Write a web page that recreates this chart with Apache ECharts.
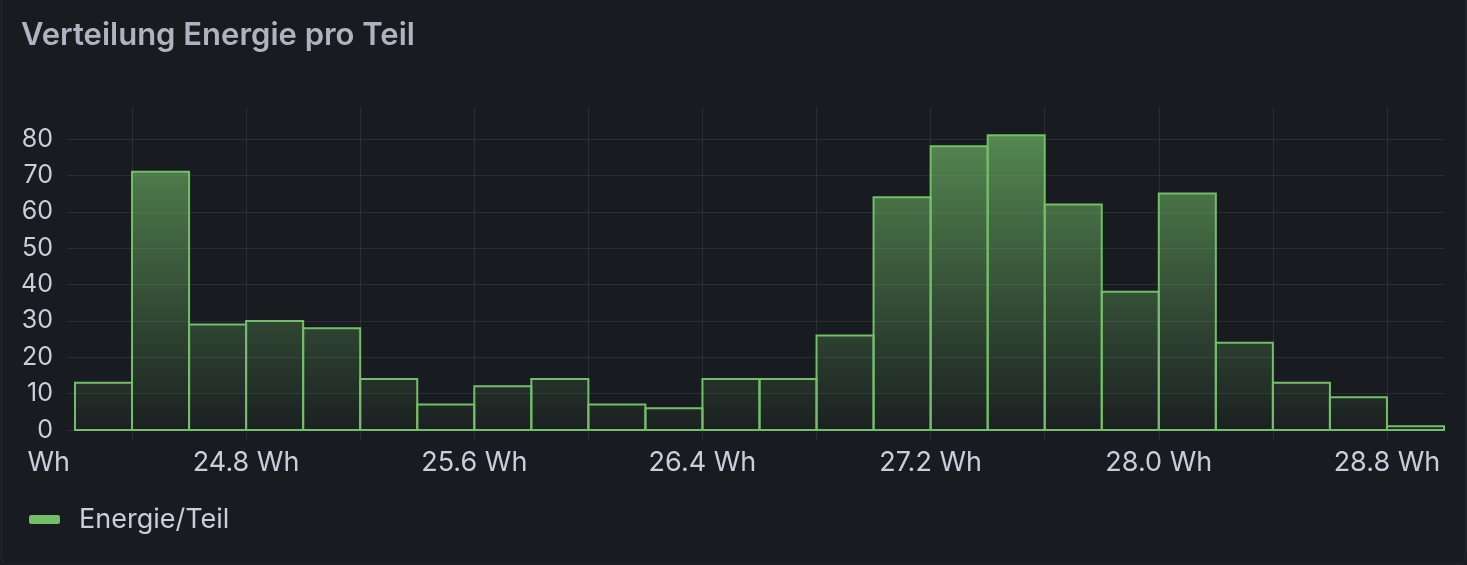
<!DOCTYPE html>
<html>
<head>
<meta charset="utf-8">
<title>Verteilung Energie pro Teil</title>
<script src="https://cdn.jsdelivr.net/npm/echarts@6/dist/echarts.min.js"></script>
<style>
  html, body { margin: 0; padding: 0; background: #181b1f; }
  #chart { width: 1467px; height: 565px; }
</style>
</head>
<body>
<div id="chart"></div>
<script>
// histogram bins (Wh), each 0.2 Wh wide
var binStarts = [24.2, 24.4, 24.6, 24.8, 25.0, 25.2, 25.4, 25.6, 25.8, 26.0, 26.2, 26.4,
                 26.6, 26.8, 27.0, 27.2, 27.4, 27.6, 27.8, 28.0, 28.2, 28.4, 28.6, 28.8];
var binWidth = 0.2;
var counts = [13, 71, 29, 30, 28, 14, 7, 12, 14, 7, 6, 14,
              14, 26, 64, 78, 81, 62, 38, 65, 24, 13, 9, 1];

// axis ticks / labels
var xGridTicks = [24.4, 24.8, 25.2, 25.6, 26.0, 26.4, 26.8, 27.2, 27.6, 28.0, 28.4, 28.8];
var xLabelTicks = [24.18, 24.8, 25.6, 26.4, 27.2, 28.0, 28.8];
var yTicks = [0, 10, 20, 30, 40, 50, 60, 70, 80];

var xMin = 24.172, xMax = 29.0;
var yMax = 88.8;

var textColor = 'rgb(204,204,220)';
var gridColor = 'rgba(204,204,220,0.1)';
var green = '#73bf69';

var chart = echarts.init(document.getElementById('chart'));

var option = {
    backgroundColor: '#181b1f',
    textStyle: { fontFamily: 'Inter' },
    title: {
        text: 'Verteilung Energie pro Teil',
        left: 21,
        top: 20,
        padding: 0,
        textStyle: {
            fontFamily: 'Inter',
            fontSize: 31,
            lineHeight: 31,
            fontWeight: 600,
            color: 'rgba(204,204,220,0.85)'
        }
    },
    legend: {
        left: 29,
        top: 506,
        padding: 0,
        itemWidth: 31,
        itemHeight: 9,
        selectedMode: false,
        data: [{ name: 'Energie/Teil', icon: 'roundRect', itemStyle: { color: green } }],
        textStyle: {
            fontFamily: 'Inter',
            fontSize: 27,
            lineHeight: 27,
            color: textColor,
            padding: [0, 0, 0, 14]
        }
    },
    grid: {
        left: 67,
        right: 23,
        top: 107,
        bottom: 135,
        outerBoundsMode: 'none'
    },
    xAxis: {
        type: 'value',
        min: xMin,
        max: xMax,
        axisLine: { show: false },
        axisTick: {
            show: true,
            length: 10,
            customValues: xGridTicks,
            lineStyle: { color: gridColor }
        },
        axisLabel: {
            customValues: xLabelTicks,
            margin: 19,
            fontSize: 27,
            lineHeight: 27,
            color: textColor,
            formatter: function (v) {
                if (v < 24.5) return '{w|Wh}';
                return v.toFixed(1) + ' Wh';
            },
            rich: {
                w: { fontSize: 27, lineHeight: 27, color: textColor, padding: [0, 41, 0, 0] }
            }
        },
        splitLine: { show: true, lineStyle: { color: gridColor } }
    },
    yAxis: {
        type: 'value',
        min: 0,
        max: yMax,
        axisLine: { show: false },
        axisTick: { show: false, customValues: yTicks },
        axisLabel: {
            customValues: yTicks,
            margin: 14,
            fontSize: 25,
            color: textColor
        },
        splitLine: { show: true, lineStyle: { color: gridColor } }
    },
    series: [{
        type: 'custom',
        name: 'Energie/Teil',
        itemStyle: { color: green },
        encode: { x: [0, 1], y: 2 },
        data: binStarts.map(function (s, i) {
            return [s, s + binWidth, counts[i]];
        }),
        renderItem: function (params, api) {
            var p0 = api.coord([api.value(0), api.value(2)]);
            var p1 = api.coord([api.value(1), 0]);
            var top = api.coord([api.value(0), yMax])[1];
            return {
                type: 'rect',
                shape: { x: p0[0], y: p0[1], width: p1[0] - p0[0], height: p1[1] - p0[1] },
                style: {
                    fill: new echarts.graphic.LinearGradient(0, top, 0, p1[1], [
                        { offset: 0, color: 'rgba(115,191,105,0.72)' },
                        { offset: 1, color: 'rgba(115,191,105,0.03)' }
                    ], true),
                    stroke: green,
                    lineWidth: 2
                }
            };
        }
    }],
    graphic: [{
        type: 'rect',
        shape: { x: 1.5, y: -10, width: 1464, height: 574, r: 6 },
        style: { fill: 'none', stroke: '#25272c', lineWidth: 1 },
        silent: true
    }]
};

chart.setOption(option);
</script>
</body>
</html>
